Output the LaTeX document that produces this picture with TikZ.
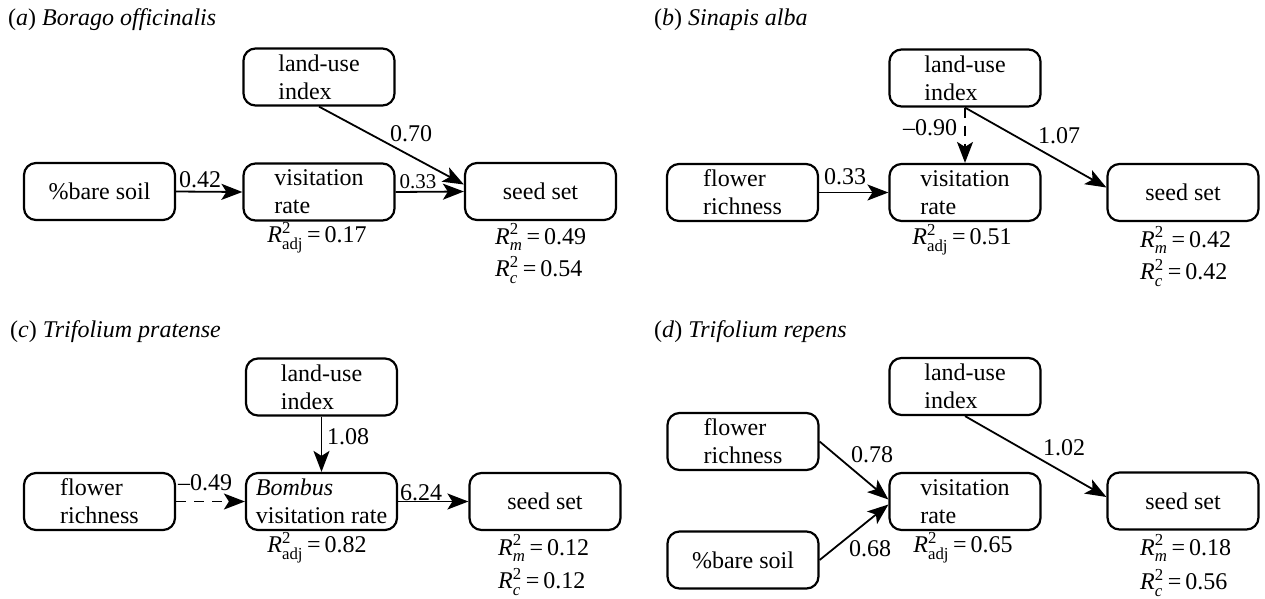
\documentclass[tikz,border=0pt]{standalone}
\usepackage{amsmath}
\usepackage{fontspec}
\setmainfont{Liberation Serif}
\usetikzlibrary{arrows.meta,calc}
\newcommand{\Rtwo}[2]{\textit{R}$^{\textrm{2}}_{#1}$\,=\,#2}
\begin{document}
\begin{tikzpicture}[x=1pt,y=-1pt,font=\fontsize{24}{28}\selectfont]
\tikzset{
  box/.style={draw, line width=2.2pt, rounded corners=12pt, minimum width=151pt,
              minimum height=57pt, inner sep=0pt, align=left},
  arr/.style={line width=1.8pt, -{Stealth[length=21pt,width=16pt,inset=5pt]}},
  darr/.style={arr, dash pattern=on 10pt off 8pt},
  lbl/.style={inner sep=0pt},
  rlbl/.style={inner sep=0pt, anchor=west},
  ttl/.style={inner sep=0pt, anchor=base west}
}
\useasboundingbox (0,0) rectangle (1265,598);

% ---------- panel a ----------
\node[ttl] (ta) at (8,25) {(\textit{a}) \textit{Borago officinalis}};
\node[box] (alu) at (319,77) {land-use\\index};
\node[box] (abare) at (99.5,191.5) {\%bare soil};
\node[box] (avis) at (319,192) {visitation\\rate};
\node[box] (aseed) at (540.5,191.5) {seed set};
\draw[arr] (abare.east) -- (avis.west);
\draw[arr] (avis.east) -- (aseed.west);
\draw[arr] (alu.south) -- ($(aseed.west)+(0,-7)$);
\node[lbl] (a1) at (200,180) {0.42};
\node[lbl,font=\fontsize{21}{25}\selectfont] (a2) at (418,182) {0.33};
\node[lbl] (a3) at (411,134) {0.70};
\node[lbl] (ar1) at (317,238) {\Rtwo{\textrm{adj}}{0.17}};
\node[rlbl] (ar2) at (495,237) {\Rtwo{\textit{m}}{0.49}};
\node[rlbl] (ar3) at (495,270) {\Rtwo{\textit{c}}{0.54}};

% ---------- panel b ----------
\node[ttl] (tb) at (654,25) {(\textit{b}) \textit{Sinapis alba}};
\node[box] (blu) at (965,78) {land-use\\index};
\node[box] (bfl) at (742.5,192.5) {flower\\richness};
\node[box] (bvis) at (965,192.5) {visitation\\rate};
\node[box] (bseed) at (1183,192.5) {seed set};
\draw[darr] (blu.south) -- (bvis.north);
\draw[arr] (blu.south) -- ($(bseed.west)+(0,-5)$);
\draw[arr] (bfl.east) -- (bvis.west);
\node[lbl] (b1) at (930,128) {--0.90};
\node[lbl] (b2) at (1059,136) {1.07};
\node[lbl] (b3) at (845,177) {0.33};
\node[lbl] (br1) at (962,240) {\Rtwo{\textrm{adj}}{0.51}};
\node[rlbl] (br2) at (1140,240) {\Rtwo{\textit{m}}{0.42}};
\node[rlbl] (br3) at (1140,273) {\Rtwo{\textit{c}}{0.42}};

% ---------- panel c ----------
\node[ttl] (tc) at (10,337) {(\textit{c}) \textit{Trifolium pratense}};
\node[box] (clu) at (321.5,387) {land-use\\index};
\node[box] (cfl) at (99.5,501.5) {flower\\richness};
\node[box] (cvis) at (321.5,501.5) {\textit{Bombus}\\visitation rate};
\node[box] (cseed) at (545,501.5) {seed set};
\draw[arr] (clu.south) -- (cvis.north);
\draw[darr] (cfl.east) -- (cvis.west);
\draw[arr] (cvis.east) -- (cseed.west);
\node[rlbl] (c1) at (327,437) {1.08};
\node[lbl] (c2) at (205,483) {--0.49};
\node[lbl] (c3) at (421,493) {6.24};
\node[lbl] (cr1) at (317,548) {\Rtwo{\textrm{adj}}{0.82}};
\node[rlbl] (cr2) at (498,548) {\Rtwo{\textit{m}}{0.12}};
\node[rlbl] (cr3) at (498,582) {\Rtwo{\textit{c}}{0.12}};

% ---------- panel d ----------
\node[ttl] (td) at (654,337) {(\textit{d}) \textit{Trifolium repens}};
\node[box] (dlu) at (965,386.5) {land-use\\index};
\node[box] (dfl) at (743,441.5) {flower\\richness};
\node[box] (dbare) at (743,560) {\%bare soil};
\node[box] (dvis) at (965,501.5) {visitation\\rate};
\node[box] (dseed) at (1183,501) {seed set};
\draw[arr] (dfl.east) -- ($(dvis.west)+(0,-2)$);
\draw[arr] (dbare.east) -- ($(dvis.west)+(0,3)$);
\draw[arr] (dlu.south) -- ($(dseed.west)+(0,-4)$);
\node[lbl] (d1) at (872,455) {0.78};
\node[lbl] (d2) at (870,549) {0.68};
\node[lbl] (d3) at (1064,448) {1.02};
\node[lbl] (dr1) at (963,548) {\Rtwo{\textrm{adj}}{0.65}};
\node[rlbl] (dr2) at (1140,548) {\Rtwo{\textit{m}}{0.18}};
\node[rlbl] (dr3) at (1140,583) {\Rtwo{\textit{c}}{0.56}};
\end{tikzpicture}
\end{document}
